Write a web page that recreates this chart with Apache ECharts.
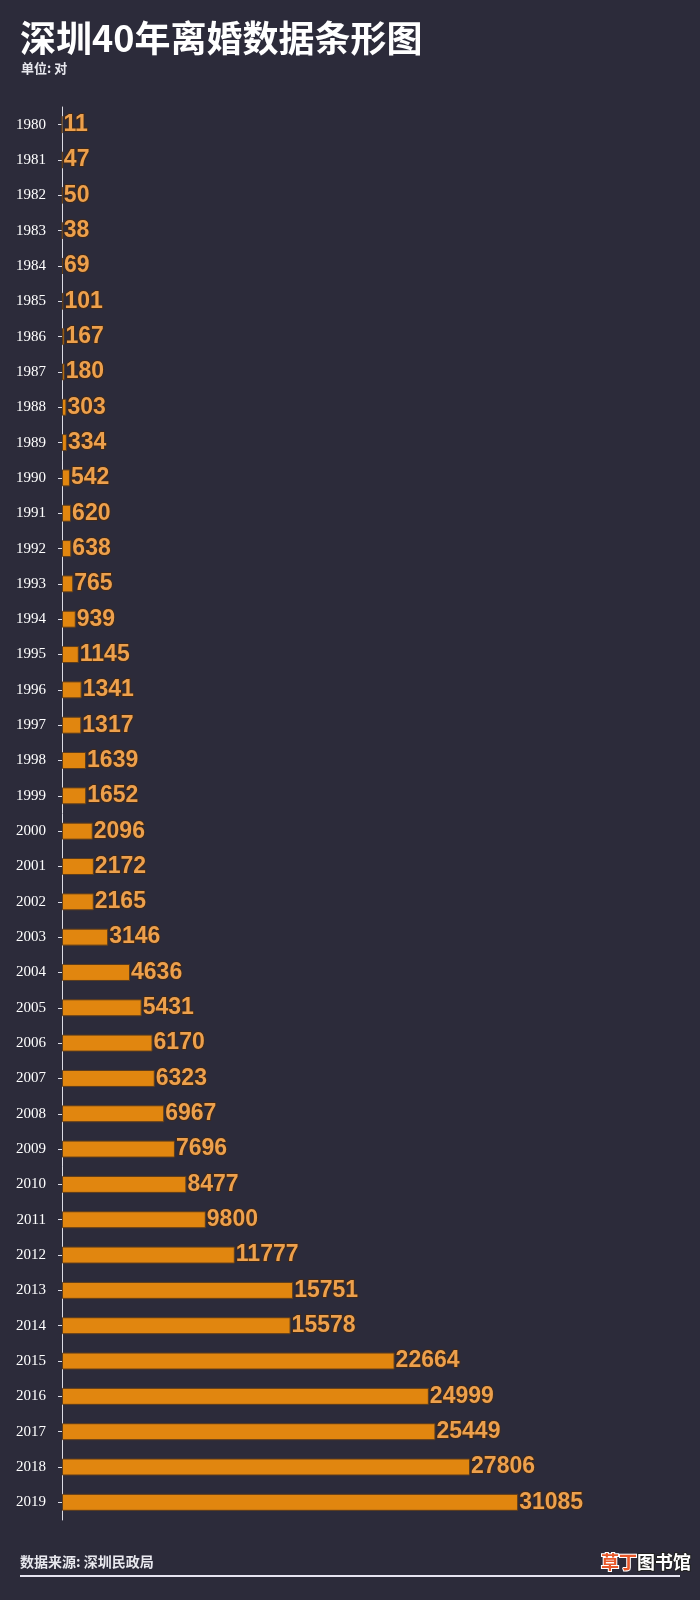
<!DOCTYPE html>
<html>
<head>
<meta charset="utf-8">
<script src="https://cdn.jsdelivr.net/npm/echarts@6/dist/echarts.min.js"></script>
<style>
  html, body { margin: 0; padding: 0; background: #2c2b3a; }
  #chart { width: 700px; height: 1600px; }
</style>
</head>
<body>
<div id="chart"></div>
<script>
const years = ['1980','1981','1982','1983','1984','1985','1986','1987','1988','1989',
  '1990','1991','1992','1993','1994','1995','1996','1997','1998','1999',
  '2000','2001','2002','2003','2004','2005','2006','2007','2008','2009',
  '2010','2011','2012','2013','2014','2015','2016','2017','2018','2019']
const divorces = [11, 47, 50, 38, 69, 101, 167, 180, 303, 334,
  542, 620, 638, 765, 939, 1145, 1341, 1317, 1639, 1652,
  2096, 2172, 2165, 3146, 4636, 5431, 6170, 6323, 6967, 7696,
  8477, 9800, 11777, 15751, 15578, 22664, 24999, 25449, 27806, 31085]

const chart = echarts.init(document.getElementById('chart'))

const option = {
  backgroundColor: '#2c2b3a',
  animation: false,
  title: [
    {
      text: '深圳40年离婚数据条形图',
      left: 20, top: 20, padding: 0,
      textStyle: { color: '#ffffff', fontSize: 36, fontWeight: 'bold', fontFamily: 'Noto Sans CJK SC' }
    },
    {
      text: '单位: 对',
      left: 21, top: 62, padding: 0,
      textStyle: { color: '#e8e8ee', fontSize: 13, fontWeight: 'bold', fontFamily: 'Noto Sans CJK SC' }
    },
    {
      text: '数据来源: 深圳民政局',
      left: 20, top: 1555, padding: 0,
      textStyle: { color: '#e8e8ee', fontSize: 14, fontWeight: 'bold', fontFamily: 'Noto Sans CJK SC' }
    }
  ],
  graphic: [
    {
      type: 'line',
      shape: { x1: 20, y1: 1576, x2: 680, y2: 1576 },
      style: { stroke: '#e6e4f0', lineWidth: 2 }
    },
    {
      type: 'text', left: 600, top: 1552,
      style: { text: '草丁', fill: '#e8582a', stroke: '#ffffff', lineWidth: 2,
        font: 'bold 18px "Noto Sans CJK SC"' }
    },
    {
      type: 'text', left: 636, top: 1552,
      style: { text: '图书馆', fill: '#ffffff', stroke: '#222222', lineWidth: 2,
        font: 'bold 18px "Noto Sans CJK SC"' }
    }
  ],
  grid: { left: 62, right: 51, top: 107, bottom: 80 },
  xAxis: {
    type: 'value',
    min: 0,
    max: 40000,
    show: false
  },
  yAxis: {
    type: 'category',
    data: years,
    inverse: true,
    axisLine: { lineStyle: { color: '#dcdce4', width: 1 } },
    axisTick: { show: true, length: 4, alignWithLabel: true, lineStyle: { color: '#dcdce4' } },
    axisLabel: { color: '#ffffff', fontSize: 15, fontFamily: 'Liberation Serif', margin: 16 }
  },
  series: [
    {
      name: '离婚对数',
      type: 'bar',
      data: divorces,
      barWidth: 17,
      itemStyle: { color: '#e1860f', borderColor: '#5e3d1c', borderWidth: 1 },
      label: {
        show: true,
        position: 'right',
        distance: 1,
        color: '#eda04c',
        fontSize: 23,
        fontWeight: 'bold',
        fontFamily: 'Liberation Sans',
        textBorderColor: 'rgba(70,40,15,0.8)',
        textBorderWidth: 2
      }
    }
  ]
}
chart.setOption(option)
</script>
</body>
</html>
